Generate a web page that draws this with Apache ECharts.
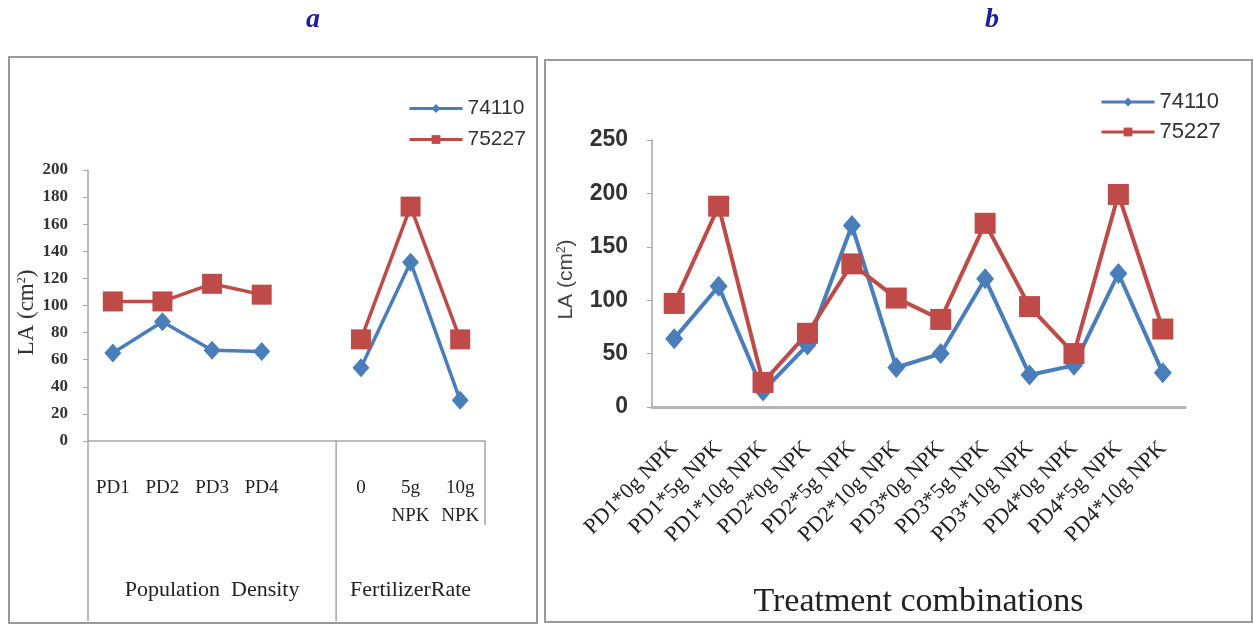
<!DOCTYPE html>
<html><head><meta charset="utf-8">
<script src="https://cdn.jsdelivr.net/npm/echarts@6/dist/echarts.min.js"></script>
<style>html,body{margin:0;padding:0;background:#fff}#c{width:1253px;height:625px}</style>
</head><body><div id="c"></div>
<script>
// ---- data ----
const catsA = ['PD1', 'PD2', 'PD3', 'PD4', '', '0', '5g\nNPK', '10g\nNPK'];
const a74110 = [65, 88, 67, 66, null, 54, 132, 30];
const a75227 = [103, 103, 116, 108, null, 75, 173, 75];
const groupsA = ['Population  Density', 'FertilizerRate'];
const groupSpansA = [[0, 5], [5, 8]];   // category index ranges of the group labels
const catsB = ['PD1*0g NPK', 'PD1*5g NPK', 'PD1*10g NPK', 'PD2*0g NPK', 'PD2*5g NPK', 'PD2*10g NPK',
               'PD3*0g NPK', 'PD3*5g NPK', 'PD3*10g NPK', 'PD4*0g NPK', 'PD4*5g NPK', 'PD4*10g NPK'];
const b74110 = [64, 113, 15, 58, 170, 37, 50, 120, 30, 39, 125, 32];
const b75227 = [97, 188, 23, 69, 134, 102, 82, 172, 94, 50, 199, 73];
const seriesNames = ['74110', '75227'];
const yTitle = 'LA (cm{sup|2})';
const xTitleB = 'Treatment combinations';
const panelTitles = ['a', 'b'];

const BLUE = '#4a7ebb', RED = '#be4b48';
const SERIF = '"Liberation Serif","Times New Roman",serif';
const NARROW = '"Liberation Sans Narrow","Liberation Sans",Arial,sans-serif';
const GRAY = '#a6a6a6';

const chart = echarts.init(document.getElementById('c'));
const supRich = { sup: { fontSize: 12, verticalAlign: 'top', lineHeight: 14, padding: [0, 0, 8, 0] } };

function lineSeries(name, data, xi, color, symbol, size, w) {
  return {
    name, type: 'line', data, xAxisIndex: xi, yAxisIndex: xi,
    symbol, symbolSize: size, connectNulls: false,
    lineStyle: { color, width: w },
    itemStyle: { color },
    emphasis: { disabled: true }, animation: false
  };
}

const legendCommon = {
  orient: 'vertical', itemWidth: 53, itemHeight: 11, itemGap: 9, padding: 0,
  selectedMode: false, data: seriesNames, lineStyle: { width: 3 }
};

chart.setOption({
  animation: false,
  grid: [
    { left: 88, top: 170, width: 397, height: 271 },
    { left: 652, top: 140, width: 533, height: 267 }
  ],
  legend: [
    Object.assign({}, legendCommon, { left: 408, top: 98, itemGap: 10,
      textStyle: { fontFamily: NARROW, fontSize: 21, color: '#333' } }),
    Object.assign({}, legendCommon, { left: 1100, top: 91, itemGap: 8,
      textStyle: { fontFamily: NARROW, fontSize: 22, color: '#333' } })
  ],
  xAxis: [
    { type: 'category', gridIndex: 0, data: catsA, boundaryGap: true,
      axisLine: { lineStyle: { color: GRAY, width: 1.5 } }, axisTick: { show: false },
      axisLabel: { interval: 0, fontFamily: SERIF, fontSize: 19, color: '#222', margin: 33, lineHeight: 28 } },
    { type: 'category', gridIndex: 1, data: catsB, boundaryGap: true,
      axisLine: { lineStyle: { color: '#b4b4b4', width: 3 } }, axisTick: { show: false },
      axisLabel: { interval: 0, rotate: 45, fontFamily: SERIF, fontSize: 22, color: '#222', margin: 38 },
      name: xTitleB, nameLocation: 'middle', nameGap: 178,
      nameTextStyle: { fontFamily: SERIF, fontSize: 34, color: '#222' } }
  ],
  yAxis: [
    { type: 'value', gridIndex: 0, min: 0, max: 200, interval: 20,
      axisLine: { show: true, lineStyle: { color: GRAY, width: 1.5 } },
      axisTick: { show: true, length: 5, lineStyle: { color: GRAY } },
      splitLine: { show: false },
      axisLabel: { fontFamily: SERIF, fontWeight: 'bold', fontSize: 17, color: '#333', margin: 20 },
      name: yTitle, nameLocation: 'middle', nameRotate: 90, nameGap: 46,
      nameTextStyle: { fontFamily: SERIF, fontSize: 23, color: '#333', rich: supRich, padding: [0, 14, 0, 0] } },
    { type: 'value', gridIndex: 1, min: 0, max: 250, interval: 50,
      axisLine: { show: true, lineStyle: { color: GRAY, width: 1.5 } },
      axisTick: { show: true, length: 5, lineStyle: { color: GRAY } },
      splitLine: { show: false },
      axisLabel: { fontFamily: NARROW, fontWeight: 'bold', fontSize: 23, color: '#333', margin: 24 },
      name: yTitle, nameLocation: 'middle', nameRotate: 90, nameGap: 75,
      nameTextStyle: { fontFamily: NARROW, fontSize: 21, color: '#444', rich: supRich, padding: [0, 12, 0, 0] } }
  ],
  series: [
    lineSeries(seriesNames[0], a74110, 0, BLUE, 'diamond', [17, 19], 3.5),
    lineSeries(seriesNames[1], a75227, 0, RED, 'rect', 20, 3.5),
    lineSeries(seriesNames[0], b74110, 1, BLUE, 'diamond', [18, 21], 4),
    lineSeries(seriesNames[1], b75227, 1, RED, 'rect', 21, 4)
  ]
});

// ---- decorations positioned through the axes ----
const p0 = chart.convertToPixel({ xAxisIndex: 0 }, 0);
const p1 = chart.convertToPixel({ xAxisIndex: 0 }, 1);
const step = p1 - p0;
const edge = k => p0 - step / 2 + k * step;
const yBase = chart.convertToPixel({ yAxisIndex: 0 }, 0);
const lineStyle = { stroke: GRAY, lineWidth: 1.5 };
const g = [];
// panel frames
g.push({ type: 'rect', shape: { x: 9, y: 57, width: 528, height: 566 }, style: { fill: 'none', stroke: '#9a9a9a', lineWidth: 2 }, z: 0 });
g.push({ type: 'rect', shape: { x: 545, y: 60, width: 707, height: 562 }, style: { fill: 'none', stroke: '#9a9a9a', lineWidth: 2 }, z: 0 });
// multi-level category separators
[0, 5].forEach(k => g.push({ type: 'line', shape: { x1: edge(k), y1: yBase, x2: edge(k), y2: 621 }, style: lineStyle }));
g.push({ type: 'line', shape: { x1: edge(8), y1: yBase, x2: edge(8), y2: 525 }, style: lineStyle });
// group labels
groupsA.forEach((t, i) => {
  const cx = (edge(groupSpansA[i][0]) + edge(groupSpansA[i][1])) / 2;
  g.push({ type: 'text', x: cx, y: yBase + 149, style: { text: t, fontFamily: SERIF, fontSize: 22, fill: '#222', align: 'center', verticalAlign: 'middle' } });
});
// panel titles
g.push({ type: 'text', x: 313, y: 20, style: { text: panelTitles[0], fontFamily: SERIF, fontStyle: 'italic', fontWeight: 'bold', fontSize: 28, fill: '#1c1c9c', align: 'center', verticalAlign: 'middle' } });
g.push({ type: 'text', x: 992, y: 20, style: { text: panelTitles[1], fontFamily: SERIF, fontStyle: 'italic', fontWeight: 'bold', fontSize: 28, fill: '#1c1c9c', align: 'center', verticalAlign: 'middle' } });
chart.setOption({ graphic: g });
</script>
</body></html>
